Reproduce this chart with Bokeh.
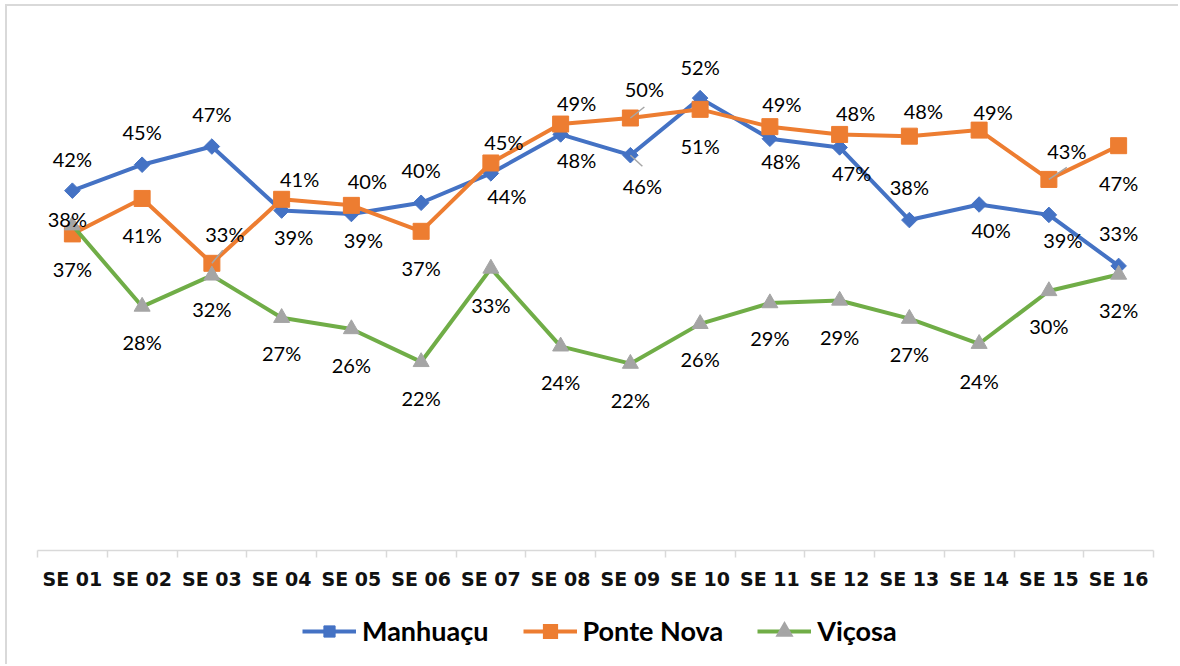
from bokeh.plotting import figure
from bokeh.layouts import column
from bokeh.models import ColumnDataSource, FixedTicker, Legend, LegendItem, Range1d
from bokeh.core.properties import value
from bokeh.embed import file_html
from bokeh.resources import INLINE

# ---------------- data ----------------
categories = ["SE 01", "SE 02", "SE 03", "SE 04", "SE 05", "SE 06", "SE 07", "SE 08",
              "SE 09", "SE 10", "SE 11", "SE 12", "SE 13", "SE 14", "SE 15", "SE 16"]
manhuacu = [0.416, 0.446, 0.467, 0.393, 0.389, 0.402, 0.436, 0.481,
            0.457, 0.523, 0.476, 0.466, 0.382, 0.400, 0.388, 0.329]
ponte_nova = [0.366, 0.407, 0.332, 0.406, 0.399, 0.369, 0.448, 0.493,
              0.500, 0.510, 0.490, 0.481, 0.479, 0.486, 0.429, 0.468]
vicosa = [0.376, 0.282, 0.318, 0.269, 0.256, 0.218, 0.326, 0.236,
          0.216, 0.262, 0.286, 0.289, 0.268, 0.239, 0.300, 0.319]
series_names = ["Manhuaçu", "Ponte Nova", "Viçosa"]

# ---------------- label placement (pixel offsets, style only) ----------------
off_m = [(0, -32), (0, -33), (0, -33), (12, 26), (12, 26), (0, -33), (16, 23), (16, 26),
         (12, 31), (0, -31), (11, 22), (12, 26), (0, -33), (12, 25), (14, 25), (0, -33)]
off_p = [(0, 35), (0, 37), (13, -29), (18, -20), (16, -24), (0, 37), (13, -21), (16, -21),
         (14, -29), (0, 37), (12, -23), (16, -21), (14, -25), (14, -18), (18, -28), (0, 37)]
off_v = [(-5, -6), (0, 35), (0, 34), (0, 35), (0, 36), (0, 36), (0, 36), (0, 36),
         (0, 36), (0, 35), (0, 35), (0, 36), (0, 35), (0, 37), (0, 35), (0, 35)]
# leader lines: (series index, category index, dx px, dy px)
leaders = [(1, 2, 11, -13), (1, 8, 14, -11), (1, 14, 18, -12), (0, 8, 12, 11)]

colors = ["#4472C4", "#ED7D31", "#70AD47"]
marker_colors = ["#4472C4", "#ED7D31", "#A5A5A5"]
markers = [("square", 11, 0.785398), ("square", 16, 0.0), ("triangle", 16, 0.0)]
legend_marker_outline = [1, 4, 4]

W, H = 1173, 602
LH = 58
ML, MR, MT, MB = 30, 27, 25, 58
FW, FH = W - ML - MR, H - MT - MB
YMAX = 0.6

p = figure(width=W, height=H, output_backend="svg", toolbar_location=None,
           x_range=Range1d(0.5, len(categories) + 0.5), y_range=Range1d(0, YMAX),
           min_border_left=ML, min_border_right=MR, min_border_top=MT, min_border_bottom=MB)
p.outline_line_color = None
p.xgrid.visible = False
p.ygrid.visible = False
p.yaxis.visible = False
p.background_fill_color = "white"
p.border_fill_color = "white"

xs = list(range(1, len(categories) + 1))

ax = p.xaxis[0]
ax.ticker = FixedTicker(ticks=xs, minor_ticks=[i + 0.5 for i in range(len(categories) + 1)])
ax.major_label_overrides = {x: c for x, c in zip(xs, categories)}
ax.axis_line_color = "#D9D9D9"
ax.axis_line_width = 1.5
ax.major_tick_line_color = None
ax.major_tick_in = 0
ax.major_tick_out = 0
ax.minor_tick_in = 0
ax.minor_tick_out = 7
ax.minor_tick_line_color = "#D9D9D9"
ax.minor_tick_line_width = 1.5
ax.major_label_text_font = "DejaVu Sans"
ax.major_label_text_font_style = "bold"
ax.major_label_text_font_size = "19px"
ax.major_label_text_color = "#111111"
ax.major_label_standoff = 10

all_series = [manhuacu, ponte_nova, vicosa]
offsets = [off_m, off_p, off_v]

label_sources = []
for k, vals in enumerate(all_series):
    src = ColumnDataSource(dict(x=xs, y=vals))
    p.line("x", "y", source=src, line_color=colors[k], line_width=4, line_join="round")
    mk, sz, ang = markers[k]
    p.scatter("x", "y", source=src, marker=mk, size=sz, angle=ang,
              fill_color=marker_colors[k], line_color=marker_colors[k], line_width=1)
    label_sources.append(ColumnDataSource(dict(
        x=xs, y=vals, t=[f"{round(v * 100)}%" for v in vals],
        dx=[o[0] for o in offsets[k]], dy=[o[1] for o in offsets[k]])))

# leader lines
px_x = FW / len(categories)
px_y = FH / YMAX
lx0, ly0, lx1, ly1 = [], [], [], []
for s, i, dx, dy in leaders:
    yv = all_series[s][i]
    lx0.append(xs[i]); ly0.append(yv)
    lx1.append(xs[i] + dx / px_x); ly1.append(yv - dy / px_y)
p.segment(lx0, ly0, lx1, ly1, line_color="#A6A6A6", line_width=1.5)

for src in label_sources:
    p.text("x", "y", text="t", source=src, x_offset="dx", y_offset="dy",
           text_align="center", text_baseline="middle",
           text_font=value("Lato"), text_font_size="20px", text_color="#000000")

# ---------------- legend strip ----------------
lg = figure(width=W, height=LH, output_backend="svg", toolbar_location=None,
            x_range=Range1d(0, 1), y_range=Range1d(0, 1),
            x_axis_type=None, y_axis_type=None,
            min_border_left=0, min_border_right=0, min_border_top=0, min_border_bottom=0)
lg.outline_line_color = None
lg.xgrid.visible = False
lg.ygrid.visible = False
lg.background_fill_color = "white"
lg.border_fill_color = "white"

items = []
for k, name in enumerate(series_names):
    hidden = ColumnDataSource(dict(x=[-5, -4], y=[-5, -4]))
    lr = lg.line("x", "y", source=hidden, line_color=colors[k], line_width=4)
    mk, sz, ang = markers[k]
    sr = lg.scatter("x", "y", source=hidden, marker=mk, size=sz, angle=ang,
                    fill_color=marker_colors[k], line_color=marker_colors[k],
                    line_width=legend_marker_outline[k], line_join="miter")
    items.append(LegendItem(label=name, renderers=[lr, sr]))

legend = Legend(items=items, location=(265, 19), orientation="horizontal",
                label_text_font="Lato", label_text_font_style="bold",
                label_text_font_size="27px", label_text_color="#000000",
                glyph_width=54, glyph_height=28, label_standoff=6, spacing=34,
                padding=0, margin=0, border_line_color=None,
                background_fill_alpha=0)
lg.add_layout(legend, "center")

page = column(p, lg, spacing=0)
page.styles = {"position": "relative", "left": "7px", "top": "6px",
               "box-shadow": "-2px -2px 0 0 #D9D9D9"}

open("out.html", "w").write(file_html(page, INLINE))
